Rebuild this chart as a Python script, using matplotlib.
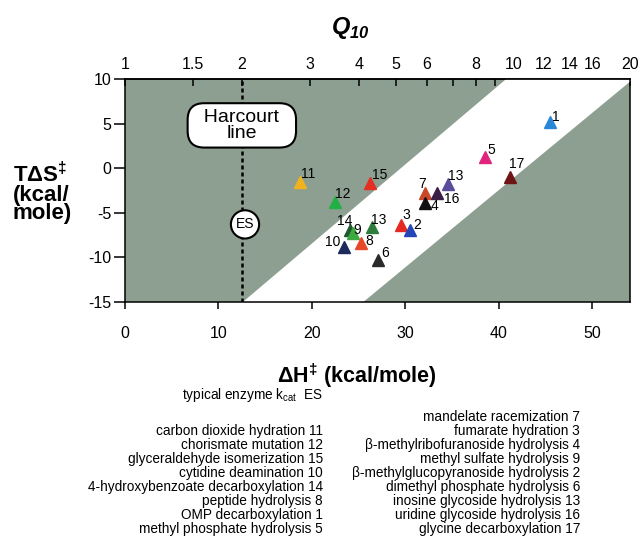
import numpy as np
import matplotlib.pyplot as plt

plt.rcParams['font.family'] = ['Liberation Sans', 'DejaVu Sans']
plt.rcParams['axes.unicode_minus'] = False

# points: enthalpy and entropy of activation (kcal/mole)
point_labels = ['1', '5', '17', '13', '7', '16', '4', '3', '2',
                '13', '14', '9', '10', '8', '6', '11', '15', '12']
dH = [45.5, 38.5, 41.2, 34.6, 32.1, 33.4, 32.1, 29.6, 30.5,
      26.4, 24.1, 24.4, 23.4, 25.3, 27.1, 18.7, 26.2, 22.5]
TdS = [5.2, 1.3, -0.95, -1.8, -2.8, -2.8, -3.9, -6.4, -6.9,
       -6.6, -6.9, -7.3, -8.8, -8.4, -10.3, -1.6, -1.7, -3.8]
colors = ['#2a86d6', '#e0247c', '#6e1414', '#5b4c9c', '#c9482a', '#3b1d45',
          '#111111', '#e42a22', '#2446b8', '#2f7d3c', '#1d5a2c', '#3caa40',
          '#1c2a5c', '#e8482a', '#2a2a2a', '#f2b21e', '#e42e22', '#22b046']

# "typical enzyme kcat" point
es_dH, es_TdS = 12.85, -6.3

# white band, edges given at TdS = -15 and TdS = 10
band_TdS = [-15, 10]
band_left = [12.5, 40.7]
band_right = [25.4, 54.3]

# top axis (Q10)
q10_ticks = [1, 1.5, 2, 3, 4, 5, 6, 8, 10, 12, 14, 16, 20]
q10_minor = [7, 9, 11, 13, 15]
harcourt_q10 = 2

left_col = ['carbon dioxide hydration 11', 'chorismate mutation 12',
            'glyceraldehyde isomerization 15', 'cytidine deamination 10',
            '4-hydroxybenzoate decarboxylation 14', 'peptide hydrolysis 8',
            'OMP decarboxylation 1', 'methyl phosphate hydrolysis 5']
right_col = ['mandelate racemization 7', 'fumarate hydration 3',
             'β-methylribofuranoside hydrolysis 4', 'methyl sulfate hydrolysis 9',
             'β-methylglucopyranoside hydrolysis 2', 'dimethyl phosphate hydrolysis 6',
             'inosine glycoside hydrolysis 13', 'uridine glycoside hydrolysis 16',
             'glycine decarboxylation 17']

# label offsets in pixels (right, up)
label_off = [(6, 5), (7, 7), (7, 13), (8, 8), (-3, 9), (15, -6), (10, -3),
             (5, 10), (7, 5), (7, 7), (-5, 9), (4, 3), (-11, 5), (8, 2),
             (7, 7), (8, 8), (10, 8), (8, 8)]

K = 18.05  # kcal/mole per ln(Q10)


def dh_to_q(x):
    return np.exp(np.asarray(x, dtype=float) / K)


def q_to_dh(q):
    q = np.clip(np.asarray(q, dtype=float), 1e-9, None)
    return K * np.log(q)


W, H = 642, 538
fig = plt.figure(figsize=(W / 100, H / 100), dpi=100)
ax = fig.add_axes([125 / W, 1 - 302 / H, 505 / W, 223 / H])
ax.set_facecolor('#8d9f90')

xmax = float(q_to_dh(20))
ax.set_xlim(0, xmax)
ax.set_ylim(-15, 10)

ax.fill_betweenx(band_TdS, band_left, band_right, color='white', lw=0, zorder=0.5)

h_dh = float(q_to_dh(harcourt_q10))
ax.plot([h_dh, h_dh], [-15, 10], color='black', lw=1.8,
        dashes=(1.6, 1.2), zorder=2)
ax.text(h_dh, 4.8, '  Harcourt  \nline', ha='center', va='center',
        multialignment='center', fontsize=14, linespacing=0.9, zorder=3,
        bbox=dict(boxstyle='round,pad=0.3,rounding_size=0.85',
                  fc='white', ec='black', lw=1.5))
ax.text(es_dH, es_TdS, 'ES', ha='center', va='center', fontsize=10, zorder=3,
        bbox=dict(boxstyle='circle,pad=0.35', fc='white', ec='black', lw=1.5))

for x, y, c, lab, (ox, oy) in zip(dH, TdS, colors, point_labels, label_off):
    ax.plot(x, y, marker='^', ms=9, color=c, mec=c, ls='none', zorder=4)
    ax.annotate(lab, (x, y), xytext=(ox * 0.72, oy * 0.72),
                textcoords='offset points', ha='center', va='center',
                fontsize=10, zorder=5)

for s in ax.spines.values():
    s.set_linewidth(1.1)

ax.set_xticks([0, 10, 20, 30, 40, 50])
ax.set_yticks([-15, -10, -5, 0, 5, 10])
ax.tick_params(axis='x', direction='out', length=5, width=1.1,
               labelsize=11.5, pad=12)
ax.tick_params(axis='y', direction='out', length=8, width=1.1,
               labelsize=11.5, pad=2)

sec = ax.secondary_xaxis('top', functions=(dh_to_q, q_to_dh))
sec.set_xticks(q10_ticks, [str(t) for t in q10_ticks])
sec.set_xticks(q10_minor, minor=True)
sec.tick_params(axis='x', which='both', direction='in', length=5, width=1.1,
                labelsize=11.5, pad=5)
sec.spines['top'].set_linewidth(1.1)

fig.text(350 / W, 1 - 28 / H, r'$\mathdefault{Q}_{\mathdefault{10}}$',
         ha='center', va='center', fontsize=17, fontweight='bold', style='italic')
fig.text(357 / W, 1 - 376 / H, r'ΔH$^{\mathdefault{‡}}$ (kcal/mole)',
         ha='center', va='center', fontsize=15.5, fontweight='bold')
fig.text(13 / W, 1 - 193 / H, 'TΔS$^{\\mathdefault{‡}}$\n(kcal/\nmole)',
         ha='left', va='center', fontsize=16, fontweight='bold', linespacing=0.85)

fig.text(323 / W, 1 - 395 / H, r'typical enzyme k$_{\mathdefault{cat}}$  ES',
         ha='right', va='center', fontsize=9.8)
for i, s in enumerate(left_col):
    fig.text(323 / W, 1 - (431 + 14.0 * i) / H, s, ha='right', va='center',
             fontsize=9.8)
for i, s in enumerate(right_col):
    fig.text(580 / W, 1 - (417 + 14.0 * i) / H, s, ha='right', va='center',
             fontsize=9.8)

fig.savefig('out.png', dpi=100)
